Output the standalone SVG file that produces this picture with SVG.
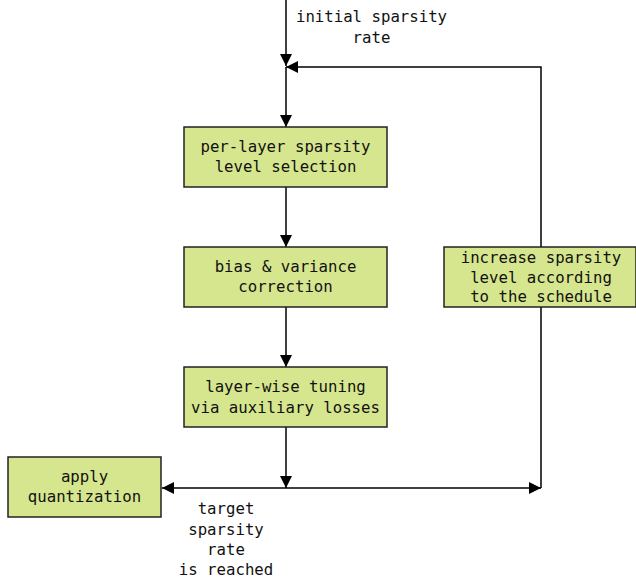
<svg xmlns="http://www.w3.org/2000/svg" width="636" height="578" viewBox="0 0 636 578">
<style>
.box{fill:#d6e68e;stroke:#222;stroke-width:1.5}
.t{font-family:"DejaVu Sans Mono","Liberation Mono",monospace;font-size:15.7px;fill:#111;text-anchor:middle}
.ln{stroke:#000;stroke-width:1.5;fill:none}
</style>
<defs>
<marker id="ah" viewBox="0 0 12 12" refX="12" refY="6" markerWidth="12" markerHeight="12" markerUnits="userSpaceOnUse" orient="auto">
<path d="M0,0 L12,6 L0,12 Z" fill="#000"/>
</marker>
</defs>
<rect width="636" height="578" fill="#fff"/>
<g id="connectors">
<line class="ln" x1="286" y1="0" x2="286" y2="66" marker-end="url(#ah)"/>
<polyline class="ln" points="541,488 541,67 286,67" marker-end="url(#ah)"/>
<line class="ln" x1="286" y1="67" x2="286" y2="127" marker-end="url(#ah)"/>
<line class="ln" x1="286" y1="187" x2="286" y2="247" marker-end="url(#ah)"/>
<line class="ln" x1="286" y1="307" x2="286" y2="367" marker-end="url(#ah)"/>
<line class="ln" x1="286" y1="427" x2="286" y2="488" marker-end="url(#ah)"/>
<line class="ln" x1="286" y1="488" x2="162" y2="488" marker-end="url(#ah)"/>
<line class="ln" x1="286" y1="488" x2="541" y2="488" marker-end="url(#ah)"/>
<text class="t" x="371.5" y="22">initial sparsity</text>
<text class="t" x="371.5" y="43">rate</text>
<text class="t" x="226" y="514">target</text>
<text class="t" x="226" y="535">sparsity</text>
<text class="t" x="226" y="555">rate</text>
<text class="t" x="226" y="575">is reached</text>
</g>
<g id="n1"><rect class="box" x="184" y="127" width="203" height="60"/>
<text class="t" x="285.5" y="152">per-layer sparsity</text>
<text class="t" x="285.5" y="172">level selection</text></g>
<g id="n2"><rect class="box" x="184" y="247" width="203" height="60"/>
<text class="t" x="285.5" y="272">bias &amp; variance</text>
<text class="t" x="285.5" y="292">correction</text></g>
<g id="n3"><rect class="box" x="184" y="367" width="203" height="60"/>
<text class="t" x="285.5" y="392">layer-wise tuning</text>
<text class="t" x="285.5" y="413">via auxiliary losses</text></g>
<g id="n4"><rect class="box" x="444" y="247" width="192" height="60"/>
<text class="t" x="541" y="263">increase sparsity</text>
<text class="t" x="541" y="283">level according</text>
<text class="t" x="541" y="302">to the schedule</text></g>
<g id="n5"><rect class="box" x="8" y="457" width="153" height="60"/>
<text class="t" x="84.5" y="482">apply</text>
<text class="t" x="84.5" y="502">quantization</text></g>
</svg>
